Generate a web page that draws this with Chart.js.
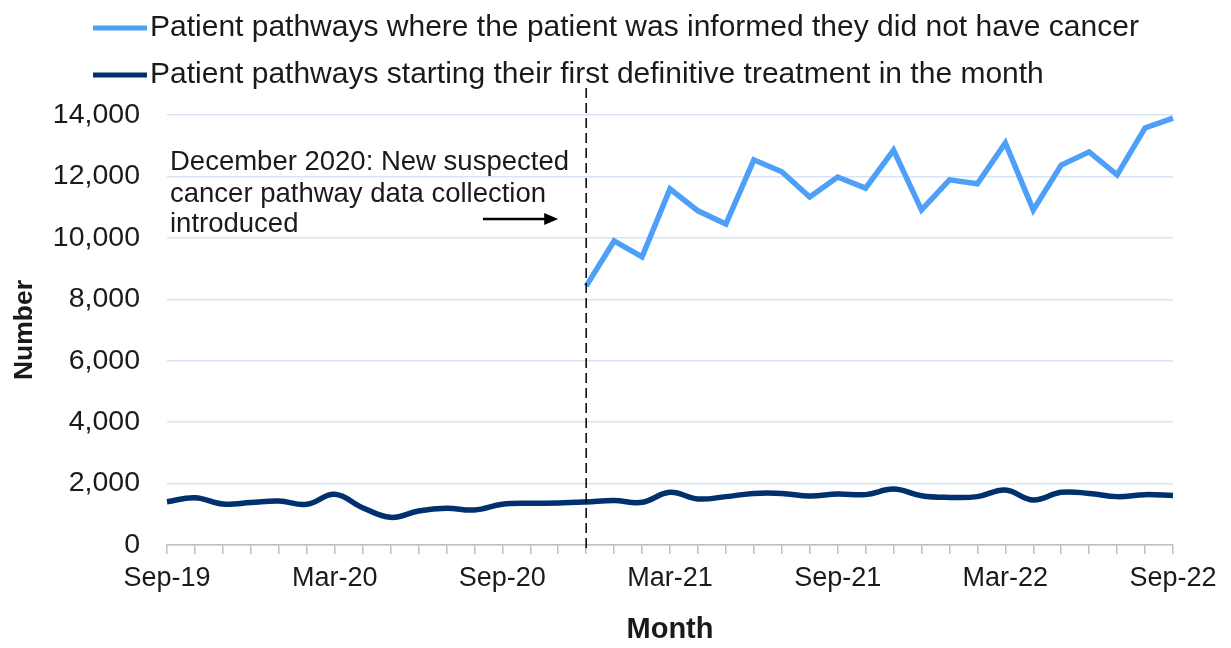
<!DOCTYPE html>
<html><head><meta charset="utf-8">
<script src="https://cdn.jsdelivr.net/npm/chart.js@4"></script>
<style>html,body{margin:0;padding:0;background:#fff}#wrap{width:1231px;height:648px}</style>
</head><body><div id="wrap"><canvas id="c" width="1231" height="648"></canvas></div>
<script>
const months = ['Sep-19','Oct-19','Nov-19','Dec-19','Jan-20','Feb-20','Mar-20','Apr-20','May-20','Jun-20','Jul-20','Aug-20',
  'Sep-20','Oct-20','Nov-20','Dec-20','Jan-21','Feb-21','Mar-21','Apr-21','May-21','Jun-21','Jul-21','Aug-21',
  'Sep-21','Oct-21','Nov-21','Dec-21','Jan-22','Feb-22','Mar-22','Apr-22','May-22','Jun-22','Jul-22','Aug-22','Sep-22'];
const xTickLabels = ['Sep-19','Mar-20','Sep-20','Mar-21','Sep-21','Mar-22','Sep-22'];
const notCancer = [null,null,null,null,null,null,null,null,null,null,null,null,null,null,null,
  8430,9900,9380,11590,10880,10450,12540,12150,11330,11980,11620,12860,10910,11890,11760,13090,10910,12370,12800,12050,13580,13900];
const firstTreatment = [1410,1540,1335,1380,1430,1325,1650,1215,900,1107,1195,1140,1325,1358,1368,
  1400,1445,1390,1715,1500,1575,1680,1680,1595,1660,1640,1820,1605,1550,1575,1790,1465,1715,1680,1575,1640,1610];
const seriesLabels = ['Patient pathways where the patient was informed they did not have cancer',
  'Patient pathways starting their first definitive treatment in the month'];
const annotationMonth = 'Dec-20';
const annotationLines = ['December 2020: New suspected','cancer pathway data collection','introduced'];

const FONT = '"Liberation Sans", Arial, sans-serif';
const TXT = '#1a1a1a';

const legendPlugin = {
  id: 'customLegend',
  afterDraw(chart) {
    const ctx = chart.ctx;
    ctx.save();
    const rows = [28, 75];
    chart.data.datasets.forEach((ds, i) => {
      const y = rows[i];
      ctx.strokeStyle = ds.borderColor;
      ctx.lineWidth = 5;
      ctx.beginPath(); ctx.moveTo(93, y); ctx.lineTo(147, y); ctx.stroke();
      ctx.fillStyle = TXT;
      ctx.font = '30px ' + FONT;
      ctx.textBaseline = 'middle';
      ctx.textAlign = 'left';
      ctx.fillText(ds.label, 150, y);
    });
    ctx.restore();
  }
};

const annotationPlugin = {
  id: 'annot',
  afterDatasetsDraw(chart) {
    const ctx = chart.ctx;
    const xs = chart.scales.x;
    const x = xs.getPixelForValue(months.indexOf(annotationMonth));
    ctx.save();
    ctx.strokeStyle = '#000';
    ctx.lineWidth = 1.5;
    ctx.setLineDash([10, 5]);
    ctx.beginPath(); ctx.moveTo(x, 88); ctx.lineTo(x, 553); ctx.stroke();
    ctx.setLineDash([]);
    ctx.fillStyle = TXT;
    ctx.font = '27.5px ' + FONT;
    ctx.textBaseline = 'middle';
    ctx.textAlign = 'left';
    const ys = [162, 194, 224];
    annotationLines.forEach((t, i) => ctx.fillText(t, 170, ys[i]));
    const ay = 219, ax0 = 483, ax1 = x - 28;
    ctx.lineWidth = 2.5;
    ctx.beginPath(); ctx.moveTo(ax0, ay); ctx.lineTo(ax1 - 10, ay); ctx.stroke();
    ctx.beginPath(); ctx.moveTo(ax1, ay); ctx.lineTo(ax1 - 14, ay - 6); ctx.lineTo(ax1 - 14, ay + 6); ctx.closePath();
    ctx.fillStyle = '#000'; ctx.fill();
    ctx.restore();
  }
};

new Chart(document.getElementById('c'), {
  type: 'line',
  data: {
    labels: months,
    datasets: [
      { label: seriesLabels[0], data: notCancer, borderColor: '#4d9ff7', borderWidth: 5.5, pointRadius: 0, tension: 0, spanGaps: false },
      { label: seriesLabels[1], data: firstTreatment, borderColor: '#00306e', borderWidth: 5.5, pointRadius: 0, tension: 0.4 }
    ]
  },
  options: {
    responsive: false,
    animation: false,
    layout: { padding: { top: 115, right: 58, left: 0, bottom: 0 } },
    plugins: { legend: { display: false }, tooltip: { enabled: false } },
    scales: {
      x: {
        afterFit(s) { s.height = 103; },
        grid: { display: true, drawOnChartArea: false, drawTicks: true, tickLength: 9, color: '#bfbfbf', lineWidth: 1.5 },
        border: { display: true, color: '#bfbfbf', width: 1.5 },
        ticks: {
          autoSkip: false, maxRotation: 0, minRotation: 0, padding: 8,
          color: TXT, font: { family: FONT, size: 27 },
          callback(v, i) { const l = months[i]; return xTickLabels.includes(l) ? l : ''; }
        },
        title: { display: true, text: 'Month', color: TXT, font: { family: FONT, size: 29, weight: 'bold' }, padding: { top: 0, bottom: 1 } }
      },
      y: {
        min: 0, max: 14000,
        afterFit(s) { s.width = 167; },
        grid: { color: '#d7e4f4', lineWidth: 1.5, drawTicks: false },
        border: { display: false },
        ticks: {
          stepSize: 2000, padding: 27, color: TXT, font: { family: FONT, size: 28.5 },
          callback(v) { return v.toLocaleString('en-US'); }
        },
        title: { display: true, text: 'Number', color: TXT, font: { family: FONT, size: 26.5, weight: 'bold' }, padding: { top: 9, bottom: 0 } }
      }
    }
  },
  plugins: [legendPlugin, annotationPlugin]
});
</script>
</body></html>
